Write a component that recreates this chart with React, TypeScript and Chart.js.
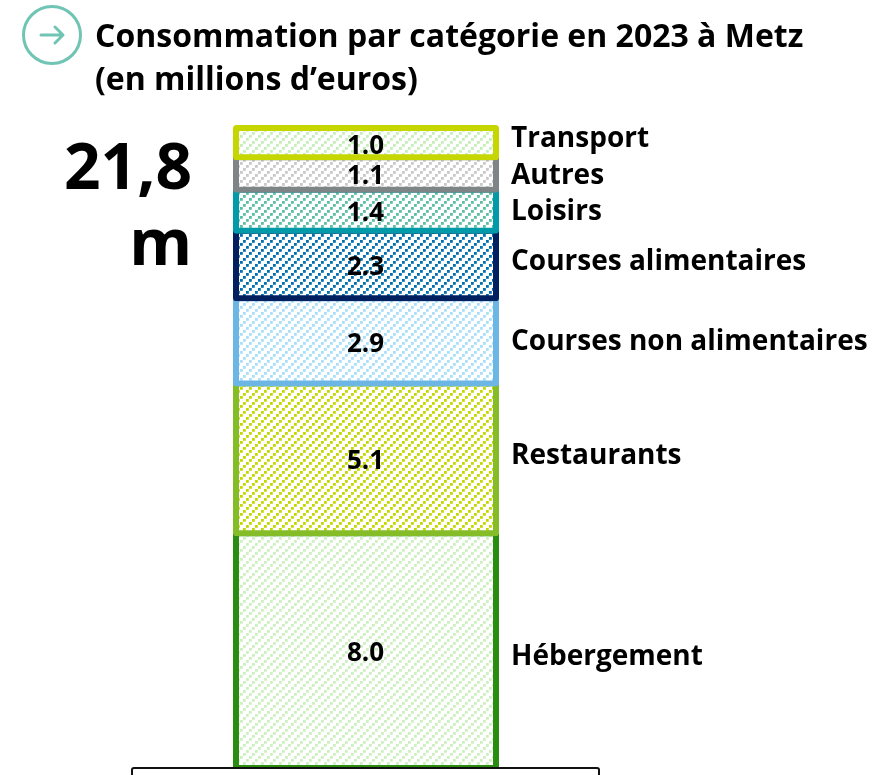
import React, { useEffect, useRef } from "react";
import { Chart, registerables } from "chart.js";

Chart.register(...registerables);

const FONT = '"Open Sans", sans-serif';

const categories = ["Transport", "Autres", "Loisirs", "Courses alimentaires", "Courses non alimentaires", "Restaurants", "Hébergement"];
const values = [1.0, 1.1, 1.4, 2.3, 2.9, 5.1, 8.0];
const borderColors = ["#c6d600", "#7f8487", "#009aa8", "#002060", "#6cb6e6", "#84bd28", "#2a8c10"];
const stripeColors = ["#c6eeb8", "#c9c9c9", "#5cbfa4", "#0070b0", "#aadffa", "#c6d600", "#cdf0c0"];
const labelOffsets = [-3.5, 3, 2, -2.5, 1.5, -2, 6.5];

function hatch(color: string): CanvasPattern {
  const size = 9;
  const c = document.createElement("canvas");
  c.width = size;
  c.height = size;
  const g = c.getContext("2d")!;
  g.fillStyle = "#ffffff";
  g.fillRect(0, 0, size, size);
  g.fillStyle = color;
  for (const [x, y] of [[6, 0], [3, 3], [0, 6]]) {
    g.fillRect(x, y, 2.8, 2.8);
  }
  return g.createPattern(c, "repeat")!;
}

const textPlugin = {
  id: "textPlugin",
  afterDatasetsDraw(chart: any) {
    const { ctx, scales } = chart;
    const y = scales.y;
    const xc = (chart.chartArea.left + chart.chartArea.right) / 2;
    let acc = 0;
    ctx.save();
    ctx.fillStyle = "#000000";
    ctx.textBaseline = "middle";
    values.forEach((v, i) => {
      const mid = y.getPixelForValue(acc + v / 2);
      acc += v;
      ctx.font = `700 26px ${FONT}`;
      ctx.textAlign = "center";
      ctx.fillText(v.toFixed(1), xc - 0.5, mid + 3.5);
      ctx.font = `700 28px ${FONT}`;
      ctx.textAlign = "left";
      ctx.fillText(categories[i], 511, mid + labelOffsets[i]);
    });
    ctx.restore();
  },
};

export default function App() {
  const ref = useRef<HTMLCanvasElement>(null);
  useEffect(() => {
    const chart = new Chart(ref.current!, {
      type: "bar",
      data: {
        labels: ["Consommation"],
        datasets: values.map((v, i) => ({
          label: categories[i],
          data: [v],
          backgroundColor: hatch(stripeColors[i]),
          borderColor: borderColors[i],
          borderWidth: 6,
          borderSkipped: false,
          inflateAmount: 3,
          borderRadius: { topLeft: 3, topRight: 3, bottomLeft: 3, bottomRight: 3 },
          barPercentage: 1,
          categoryPercentage: 1,
          clip: false,
        })),
      },
      options: {
        responsive: false,
        animation: false,
        layout: { padding: { left: 236, right: 399, top: 128, bottom: 7 } },
        plugins: { legend: { display: false }, tooltip: { enabled: false } },
        scales: {
          x: { stacked: true, display: false },
          y: { stacked: true, display: false, reverse: true, min: 0, max: 21.8 },
        },
      },
      plugins: [textPlugin],
    } as any);
    return () => chart.destroy();
  }, []);

  return (
    <div style={{ position: "fixed", left: 0, top: 0, width: 895, height: 775, overflow: "hidden", background: "#fff", fontFamily: FONT, color: "#000" }}>
      <canvas ref={ref} width={895} height={775} style={{ position: "absolute", left: 0, top: 0, display: "block" }} />
      <svg width={62} height={62} style={{ position: "absolute", left: 21, top: 4 }}>
        <circle cx={31} cy={31} r={28.5} fill="none" stroke="#70c4b4" strokeWidth={3} />
        <path d="M20 31 H42 M34 23 L42 31 L34 39" fill="none" stroke="#70c4b4" strokeWidth={3} strokeLinecap="round" strokeLinejoin="round" />
      </svg>
      <div style={{ position: "absolute", left: 95, top: 13, width: 780, fontWeight: 700, fontSize: 32, lineHeight: "43px", whiteSpace: "nowrap" }}>
        Consommation par catégorie en 2023 à Metz
        <br />
        (en millions d’euros)
      </div>
      <div style={{ position: "absolute", left: 40, top: 127, width: 152, textAlign: "right", fontWeight: 700, fontSize: 64, lineHeight: "76px" }}>
        21,8
        <br />m
      </div>
      <div style={{ position: "absolute", left: 131, top: 767, width: 469, height: 40, boxSizing: "border-box", border: "2px solid #111", borderRadius: 3, background: "#fff" }} />
    </div>
  );
}
